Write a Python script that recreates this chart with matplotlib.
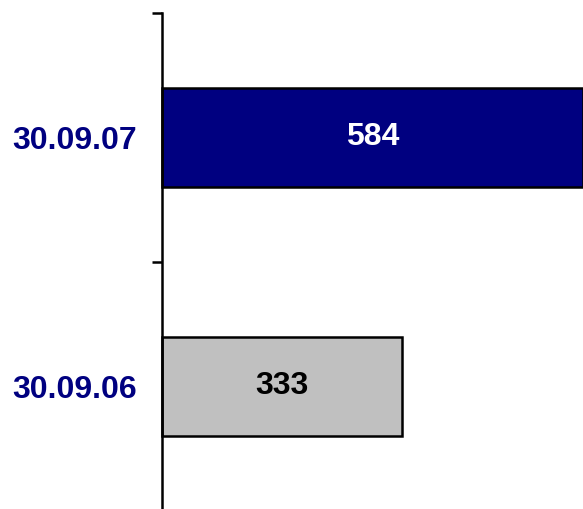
import matplotlib
matplotlib.use("Agg")
import matplotlib.pyplot as plt

# data
categories = ["30.09.06", "30.09.07"]
values = [333, 584]
bar_colors = ["#C0C0C0", "#000080"]
text_colors = ["black", "white"]

plt.rcParams['font.family'] = ['Liberation Sans', 'DejaVu Sans']

fig = plt.figure(figsize=(5.83, 5.09), dpi=100)
ax = fig.add_axes([162 / 583, -2 / 509, 421 / 583, 498 / 509])

pos = list(range(len(categories)))
ax.barh(pos, values, height=0.4, color=bar_colors, edgecolor="black",
        linewidth=1.8, clip_on=False)

for y, v, c in zip(pos, values, text_colors):
    ax.text(v / 2, y, str(v), ha="center", va="center", color=c,
            fontsize=23, fontweight="bold")

ax.set_xlim(0, 584)
ax.set_ylim(-0.5, 1.5)

for s in ["top", "right", "bottom"]:
    ax.spines[s].set_visible(False)
ax.spines["left"].set_linewidth(1.8)
ax.set_xticks([])

# boundary ticks (major) and category labels (minor)
ax.set_yticks([-0.5, 0.5, 1.5])
ax.set_yticklabels([])
ax.tick_params(axis="y", which="major", length=7, width=1.8)
ax.set_yticks(pos, minor=True)
ax.set_yticklabels(categories, minor=True)
ax.tick_params(axis="y", which="minor", length=0, pad=18,
               labelsize=23, labelcolor="#000080")
for lbl in ax.get_yticklabels(minor=True):
    lbl.set_fontweight("bold")

fig.savefig("out.png", dpi=100)
